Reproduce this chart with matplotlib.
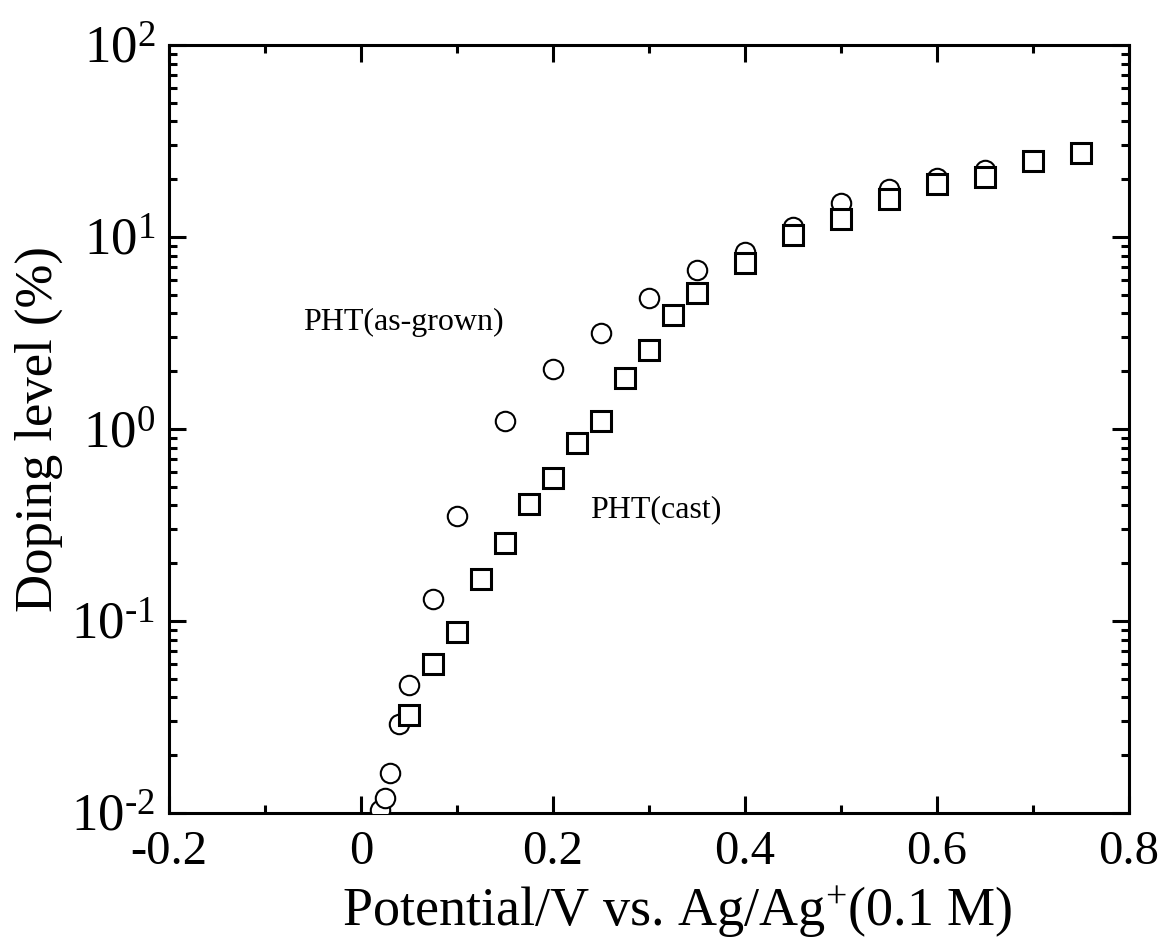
import matplotlib
matplotlib.use("Agg")
import matplotlib.pyplot as plt
from matplotlib.ticker import FixedLocator, FuncFormatter, LogLocator, NullFormatter
import math

plt.rcParams['font.family'] = ['Liberation Serif', 'DejaVu Serif']
plt.rcParams['mathtext.fontset'] = 'custom'
plt.rcParams['mathtext.rm'] = 'Liberation Serif'
plt.rcParams['mathtext.it'] = 'Liberation Serif:italic'
plt.rcParams['mathtext.bf'] = 'Liberation Serif:bold'
plt.rcParams['axes.unicode_minus'] = False

# PHT(as-grown) - circles
asgrown_x = [0.02, 0.025, 0.03, 0.04, 0.05, 0.075, 0.1, 0.15, 0.2, 0.25, 0.3, 0.35,
             0.4, 0.45, 0.5, 0.55, 0.6, 0.65]
asgrown_y = [0.0104, 0.0120, 0.0162, 0.0291, 0.0464, 0.130, 0.352, 1.10, 2.05, 3.16,
             4.81, 6.73, 8.35, 11.3, 15.0, 17.8, 20.3, 22.3]

# PHT(cast) - squares
cast_x = [0.05, 0.075, 0.1, 0.125, 0.15, 0.175, 0.2, 0.225, 0.25, 0.275, 0.3, 0.325,
          0.35, 0.4, 0.45, 0.5, 0.55, 0.6, 0.65, 0.7, 0.75]
cast_y = [0.0324, 0.0597, 0.0877, 0.1655, 0.255, 0.407, 0.556, 0.846, 1.10, 1.84,
          2.58, 3.92, 5.11, 7.32, 10.2, 12.4, 15.8, 18.9, 20.5, 24.9, 27.4]

x_ticks = [-0.2, 0, 0.2, 0.4, 0.6, 0.8]
x_tick_labels = ["-0.2", "0", "0.2", "0.4", "0.6", "0.8"]

fig = plt.figure(figsize=(11.68, 9.4), dpi=100)
ax = fig.add_axes([169/1168, 1 - 813/940, (1129-169)/1168, (813-45)/940])

ax.plot(asgrown_x, asgrown_y, linestyle='none', marker='o', markersize=14,
        markerfacecolor='white', markeredgecolor='black', markeredgewidth=1.5, zorder=3)
ax.plot(cast_x, cast_y, linestyle='none', marker='s', markersize=14.5,
        markerfacecolor='white', markeredgecolor='black', markeredgewidth=2.2, zorder=4)

ax.set_yscale('log')
ax.set_xlim(-0.2, 0.8)
ax.set_ylim(1e-2, 1e2)


def xfmt(v, p):
    r = round(v, 1)
    return x_tick_labels[x_ticks.index(r)] if r in x_ticks else ""


def yfmt(v, p):
    e = int(round(math.log10(v)))
    return "10$^{\\text{%d}}$" % e


ax.xaxis.set_major_locator(FixedLocator(x_ticks))
ax.xaxis.set_major_formatter(FuncFormatter(xfmt))
ax.xaxis.set_minor_locator(FixedLocator([-0.1, 0.1, 0.3, 0.5, 0.7]))
ax.yaxis.set_major_locator(LogLocator(base=10, numticks=10))
ax.yaxis.set_major_formatter(FuncFormatter(yfmt))
ax.yaxis.set_minor_locator(LogLocator(base=10, subs=range(2, 10), numticks=20))
ax.yaxis.set_minor_formatter(NullFormatter())

for s in ax.spines.values():
    s.set_linewidth(2.2)

ax.tick_params(which='both', direction='in', top=True, right=True, width=2.2,
               colors='black')
ax.tick_params(which='major', length=12)
ax.tick_params(which='minor', length=6)
ax.tick_params(axis='x', which='major', labelsize=35, pad=12)
ax.tick_params(axis='y', which='major', labelsize=38, pad=10)

ax.set_xlabel("Potential/V vs. Ag/Ag$^{+}$(0.1 M)", fontsize=39)
ax.xaxis.set_label_coords(0.53, -0.094)
ax.set_ylabel("Doping level (%)", fontsize=38, labelpad=6)

ax.text(-0.06, 3.6, "PHT(as-grown)", fontsize=23, ha='left', va='center')
ax.text(0.239, 0.38, "PHT(cast)", fontsize=23, ha='left', va='center')

fig.savefig("out.png", dpi=100, facecolor='white')
